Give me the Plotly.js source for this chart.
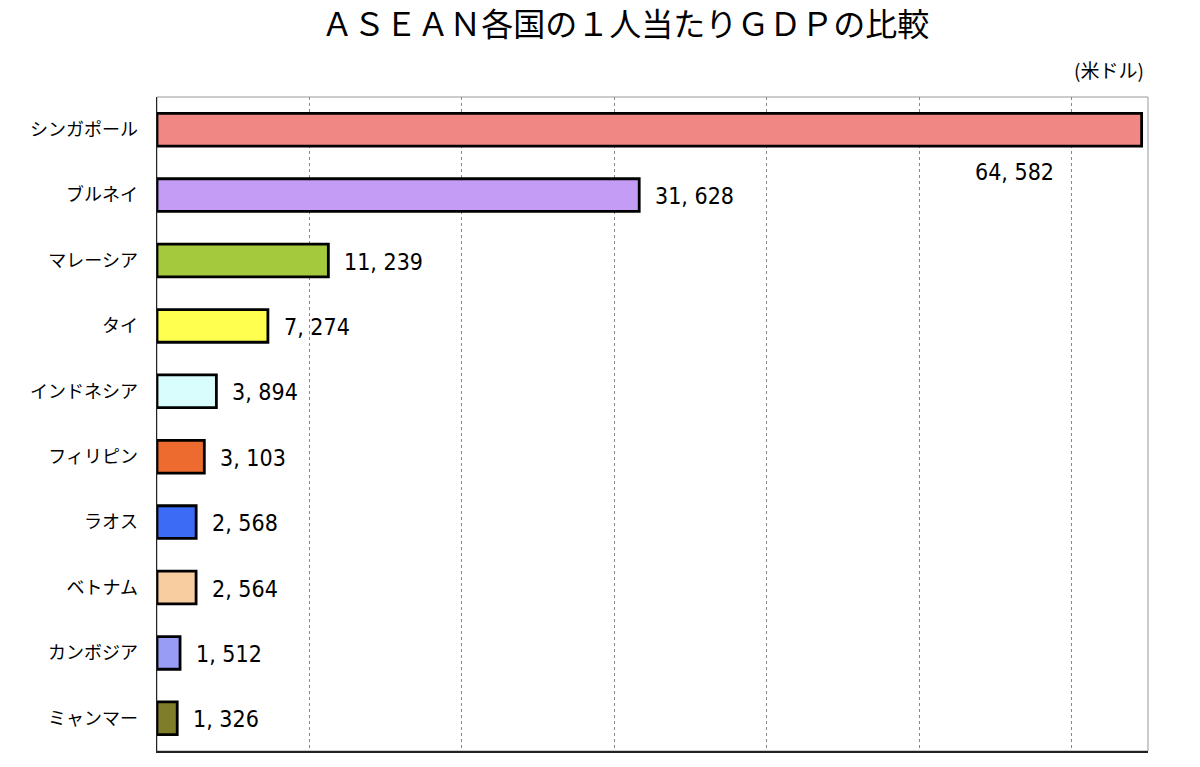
<!DOCTYPE html>
<html>
<head>
<meta charset="utf-8">
<script src="https://cdn.plot.ly/plotly-3.0.1.min.js"></script>
<style>html,body{margin:0;padding:0;background:#fff;}#chart{width:1200px;height:767px;}</style>
</head>
<body>
<div id="chart"></div>
<script>
const countries = ["シンガポール","ブルネイ","マレーシア","タイ","インドネシア","フィリピン","ラオス","ベトナム","カンボジア","ミャンマー"];
const gdpPerCapita = [64582,31628,11239,7274,3894,3103,2568,2564,1512,1326];
const valueLabels = ["64, 582","31, 628","11, 239","7, 274","3, 894","3, 103","2, 568","2, 564","1, 512","1, 326"];
const barColors = ["#F08784","#C49CF6","#A4C93C","#FFFF4F","#D9FDFD","#EE6B2F","#3C6BF5","#F8CDA0","#999CF5","#7F7D2A"];

const numFont = {family: "'DejaVu Sans Condensed', 'Liberation Sans Narrow', sans-serif", size: 23, color: "#000"};

const annotations = countries.map((c, i) => {
  if (i === 0) {
    return {x: gdpPerCapita[i], y: c, xref: "x", yref: "y", text: valueLabels[i], showarrow: false,
      xanchor: "center", yanchor: "middle", xshift: -127, yshift: -42, font: numFont};
  }
  return {x: gdpPerCapita[i], y: c, xref: "x", yref: "y", text: valueLabels[i], showarrow: false,
    xanchor: "left", yanchor: "middle", xshift: 14, yshift: -1, font: numFont};
});
annotations.push({x: 1, y: 1, xref: "paper", yref: "paper", text: "(米ドル)", showarrow: false,
  xanchor: "right", yanchor: "bottom", yshift: 12, xshift: -2,
  font: {family: "'Noto Sans CJK JP', sans-serif", size: 19, color: "#000"}});

const trace = {
  type: "bar", orientation: "h",
  x: gdpPerCapita, y: countries,
  marker: {color: barColors, line: {color: "#000", width: 2.8}},
  width: 0.5, hoverinfo: "x+y"
};

const layout = {
  width: 1200, height: 767,
  margin: {l: 157, r: 52, t: 97, b: 16},
  paper_bgcolor: "#fff", plot_bgcolor: "#fff",
  title: {text: "ＡＳＥＡＮ各国の１人当たりＧＤＰの比較", x: 0.521, xanchor: "center", y: 0.968, yanchor: "middle",
    font: {family: "'Noto Sans CJK JP', sans-serif", size: 32, color: "#000"}},
  showlegend: false,
  xaxis: {range: [0, 65000], dtick: 10000, tick0: 0, showticklabels: false, ticks: "",
    showgrid: true, gridcolor: "#888", griddash: "dot", gridwidth: 1,
    showline: true, linecolor: "#222", linewidth: 1.5, zeroline: false, fixedrange: true},
  yaxis: {range: [9.5, -0.5], autorange: false, showgrid: false, ticks: "", ticklabelstandoff: 14,
    showline: true, linecolor: "#222", linewidth: 1.5,
    tickfont: {family: "'Noto Sans CJK JP', sans-serif", size: 18, color: "#000"}, fixedrange: true},
  shapes: [{type: "rect", xref: "paper", yref: "paper", x0: 0, x1: 1, y0: 0, y1: 1,
    line: {color: "#999", width: 1}, layer: "below"}],
  annotations: annotations
};

Plotly.newPlot("chart", [trace], layout, {displayModeBar: false, staticPlot: true});
</script>
</body>
</html>
